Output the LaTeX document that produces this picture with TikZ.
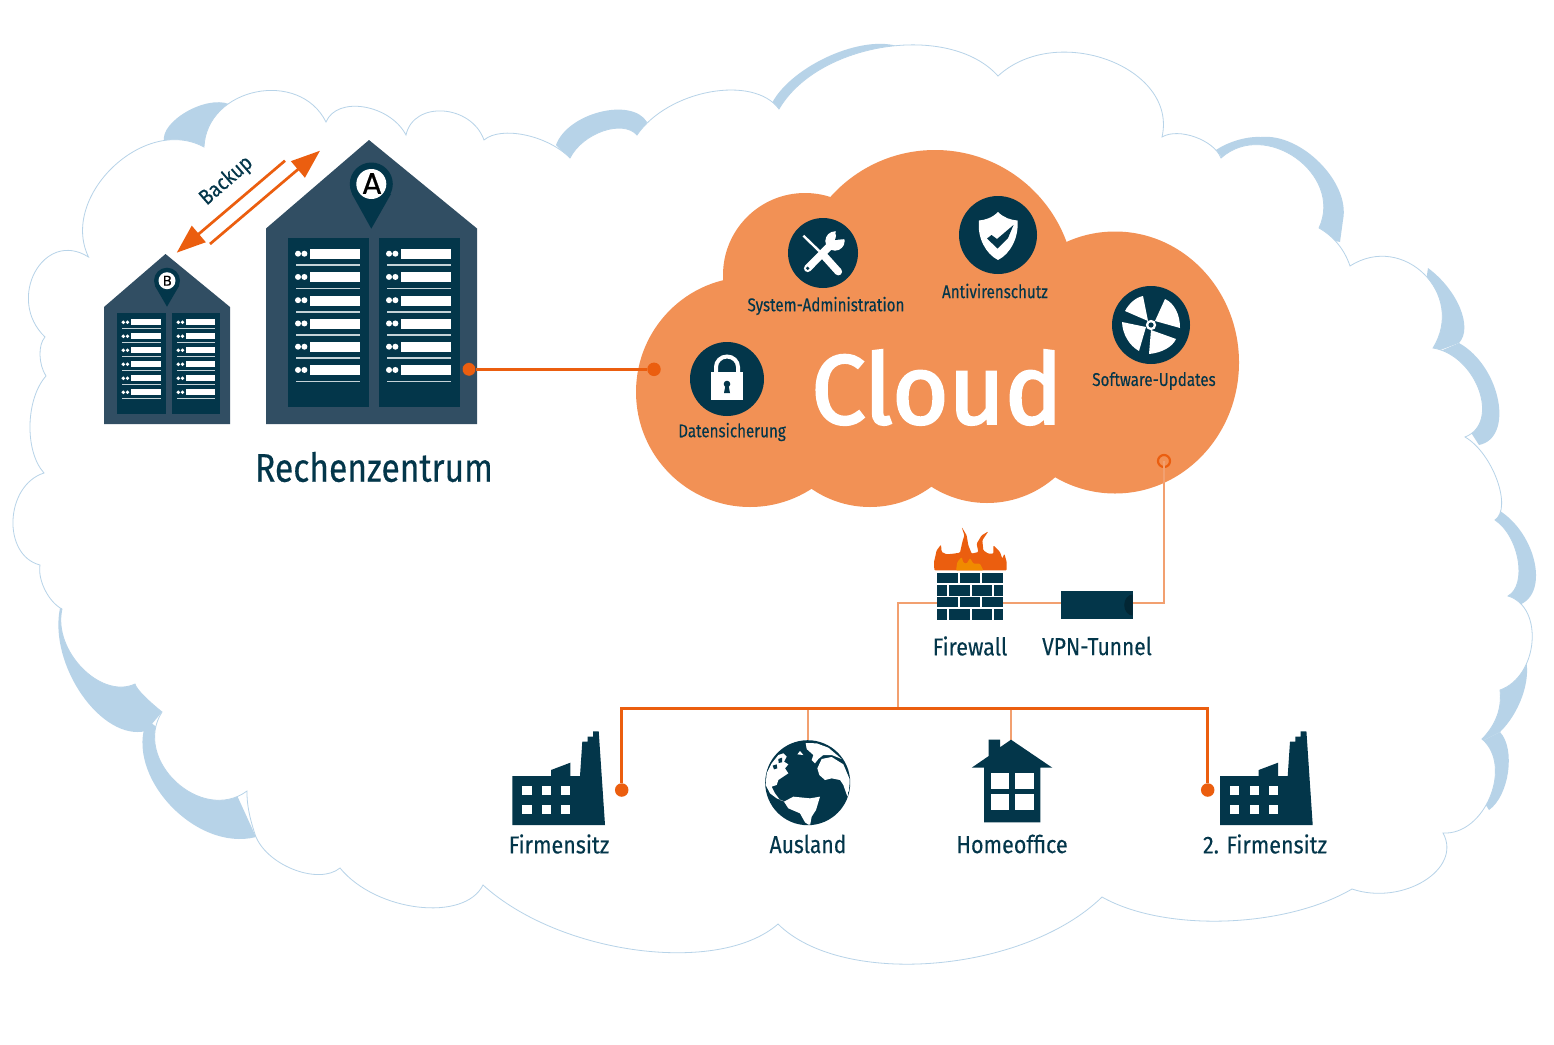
\documentclass[tikz,border=0pt]{standalone}
\usepackage{fontspec}
\usetikzlibrary{arrows.meta,calc}
\setmainfont{Fira Sans}[FakeStretch=0.82,FakeBold=0.25]
\newfontfamily\bigfont{Fira Sans}[FakeStretch=0.88,FakeBold=0.3]
\newfontfamily\hugefont{Fira Sans}[FakeStretch=0.84,FakeBold=0.35]
\newfontfamily\cloudfont{Fira Sans}[FakeStretch=0.985,FakeBold=2.6]
\newfontfamily\pinfont{Poppins}[FakeBold=0.5]
\definecolor{cblue}{HTML}{B7D3E8}
\definecolor{corange}{HTML}{F29155}
\definecolor{cline}{HTML}{EB5E0F}
\definecolor{cthin}{HTML}{F2A070}
\definecolor{cdark}{HTML}{03364A}
\definecolor{cbuild}{HTML}{314E63}
\definecolor{crule}{HTML}{C5D3D8}
\definecolor{camber}{HTML}{F08A00}
\def\lb#1#2#3#4#5#6#7{ .. controls ({(#1)+4/3*((#3)-((#1)+(#5))/2)+(#7)*((#1)-(#5))},{(#2)+4/3*((#4)-((#2)+(#6))/2)+(#7)*((#2)-(#6))}) and ({(#5)+4/3*((#3)-((#1)+(#5))/2)-(#7)*((#1)-(#5))},{(#6)+4/3*((#4)-((#2)+(#6))/2)-(#7)*((#2)-(#6))}) .. (#5,#6)}
\tikzset{
  lbl/.style={text=cdark,inner sep=0pt,anchor=center},
  big/.style={lbl,font=\bigfont\fontsize{24.5}{24.5}\selectfont},
  small/.style={lbl,font=\fontsize{18.5}{18.5}\selectfont},
  dotn/.style={circle,fill=cline,inner sep=0pt,minimum size=13.5pt},
  thick line/.style={draw=cline,line width=2.7pt},
  thin line/.style={draw=cthin,line width=1.2pt},
  ico/.style={circle,fill=cdark,inner sep=0pt},
  backuparrow/.style={draw=cline,line width=2.7pt,-{Triangle[length=29pt,width=21pt]}},
}
\newcommand\rackbig[2]{
  \fill[cdark] (#1,238) rectangle (#1+81,407);
  \foreach \r in {0,...,5}{
    \fill[white] (#1+10,253.7+23.25*\r) circle (3);
    \fill[white] (#1+16.4,253.7+23.25*\r) circle (3);
    \fill[white] (#1+22,249+23.25*\r) rectangle (#1+72,259+23.25*\r);
    \fill[crule] (#1+8,264.4+23.25*\r) rectangle (#1+72,266+23.25*\r);
  }
}
\newcommand\racksmall[2]{
  \fill[cdark] (#1,313) rectangle (#1+#2,414);
  \foreach \r in {0,...,5}{
    \fill[white] (#1+6.3,322.3+14*\r) circle (1.9);
    \fill[white] (#1+10.5,322.3+14*\r) circle (1.9);
    \fill[white] (#1+13.7,319.3+14*\r) rectangle (#1+#2-5.5,325.3+14*\r);
    \fill[crule] (#1+5,328.2+14*\r) rectangle (#1+#2-5.5,329.4+14*\r);
  }
}
\newcommand\factory[1]{
 \begin{scope}[shift={(#1,0)}]
  \fill[cdark] (512.3,825)--(512.3,776)--(551,776)--(551,770)--(570.3,762.7)--(570.3,776)--(580,776)--(582.3,741.7)--(587.7,741.7)--(587.7,736.7)--(593,736.7)--(593,731.3)--(598.7,731.3)--(605,825)--cycle;
  \foreach \wx in {522.3,542,561}{\foreach \wy in {786,805}{
    \fill[white] (\wx,\wy) rectangle (\wx+9.3,\wy+9.3);}}
 \end{scope}
}
\begin{document}
\begin{tikzpicture}[x=1pt,y=-1pt]
\useasboundingbox (0,0) rectangle (1554,1044);
\fill[white] (0,0) rectangle (1554,1044);
% blue crescents
\fill[cblue] (164,142) \lb{164}{142}{186}{112}{229}{104}{-0.15} -- (204,147) -- cycle;
\fill[cblue] (556,145) \lb{556}{145}{600}{112}{647}{122}{-0.15} -- (637,140) -- (610,200) -- (570,160) -- cycle;
\fill[cblue] (770,107) \lb{770}{107}{825}{58}{897}{46}{-0.22} -- (850,150) -- cycle;
\fill[cblue] (1216,150) \lb{1216}{150}{1238}{140}{1261}{137}{-0.3} \lb{1261}{137}{1320}{163}{1343}{220}{-0.2} -- (1340,242) -- (1280,230) -- cycle;
\fill[cblue] (1428,268) \lb{1428}{268}{1460}{308}{1459}{343}{-0.25} -- (1435,352) -- (1420,320) -- cycle;
\fill[cblue] (1459,343) \lb{1459}{343}{1498}{400}{1479}{445}{-0.15} -- (1450,400) -- (1438,352) -- cycle;
\fill[cblue] (1495,508) \lb{1495}{508}{1534}{560}{1519}{605}{-0.17} -- (1505,600) -- (1490,560) -- cycle;
\fill[cblue] (1526,660) \lb{1526}{660}{1522}{697}{1500}{732}{-0.28} -- (1480,742) -- (1490,700) -- cycle;
\fill[cblue] (1500,732) \lb{1500}{732}{1508}{772}{1489}{810}{-0.2} -- (1470,780) -- (1480,742) -- cycle;
\fill[cblue] (60,608) \lb{60}{608}{82}{695}{146}{731}{-0.19} -- (162,712) -- (160,650) -- cycle;
\fill[cblue] (147,720) \lb{147}{720}{170}{805}{256}{837}{-0.17} -- (230,780) -- cycle;
% main cloud
\draw[fill=white,draw=cblue,line width=0.8pt,line join=miter]
 (88.5,257)
 \lb{88.5}{257}{113}{167}{204}{147}{-0.13}
 \lb{204}{147}{256}{92}{326}{122}{-0.12}
 \lb{326}{122}{364}{107}{406}{135}{-0.17}
 \lb{406}{135}{443}{111}{484}{140}{-0.13}
 \lb{484}{140}{525}{135}{570}{158}{-0.23}
 \lb{570}{158}{603}{131}{637}{135}{-0.2}
 \lb{637}{135}{710}{92}{779}{109}{-0.2}
 \lb{779}{109}{885}{47}{998}{76}{-0.2}
 \lb{998}{76}{1108}{60}{1162}{137}{-0.13}
 \lb{1162}{137}{1195}{137}{1221}{158}{-0.2}
 \lb{1221}{158}{1296}{158}{1319}{228}{-0.1}
 \lb{1319}{228}{1338}{244}{1350}{266}{-0.33}
 \lb{1350}{266}{1424}{274}{1433}{348}{-0.12}
 \lb{1433}{348}{1479}{390}{1465}{437}{-0.12}
 \lb{1465}{437}{1497}{480}{1495}{520}{-0.17}
 \lb{1495}{520}{1518}{560}{1508}{596}{-0.18}
 \lb{1508}{596}{1532}{642}{1500}{690}{-0.13}
 \lb{1500}{690}{1497}{716}{1482}{739}{-0.33}
 \lb{1482}{739}{1490}{797}{1443}{833}{-0.13}
 \lb{1443}{833}{1424}{881}{1352}{889}{-0.17}
 \lb{1352}{889}{1225}{921}{1102}{897}{-0.26}
 \lb{1102}{897}{935}{963}{778}{924}{-0.22}
 \lb{778}{924}{637}{950}{483}{885}{-0.23}
 \lb{483}{885}{418}{907}{340}{868}{-0.19}
 \lb{340}{868}{295}{870}{256}{837}{-0.2}
 \lb{256}{837}{249}{812}{247}{791}{-0.33}
 \lb{247}{791}{176}{782}{162}{712}{-0.09}
 \lb{162}{712}{143}{695}{135}{684}{-0.33}
 \lb{135}{684}{82}{668}{62}{609}{-0.17}
 \lb{62}{609}{45}{590}{40}{565}{-0.25}
 \lb{40}{565}{13}{520}{44}{473}{-0.12}
 \lb{44}{473}{30}{425}{46}{376}{-0.23}
 \lb{46}{376}{40}{355}{45}{337}{-0.25}
 \lb{45}{337}{35}{272}{88.5}{257}{-0.06}
 -- cycle;
% orange cloud: union of round lobes
\begin{scope}[corange]
 \fill (750,392) ellipse (114 and 115);
 \fill (805,275) circle (82);
 \fill (935,290) circle (140);
 \fill (1115,362.5) ellipse (124 and 131);
 \fill (870,404) circle (103);
 \fill (987,400) circle (103);
 \fill (750,300) rectangle (1115,430);
\end{scope}
% building A
\fill[cbuild] (266,424)--(266,228.5)--(369,140)--(477,228.5)--(477,424)--cycle;
\rackbig{288}{238}
\rackbig{379}{238}
\fill[cdark] (352,194)--(371.3,228.7)--(391,194)--cycle;
\node[ico,minimum size=43pt] (pinA) at (371.3,184) {};
\fill[white] (pinA.center) circle (15);
\node[inner sep=0,text=black,font=\pinfont\fontsize{30}{30}\selectfont] at (372,183.5) {A};
% building B
\fill[cbuild] (104,424)--(104,307)--(165.5,254)--(230,307)--(230,424)--cycle;
\racksmall{117}{49}
\racksmall{172}{48}
\fill[cdark] (155,286)--(167,306.7)--(179,286)--cycle;
\node[ico,minimum size=26pt] (pinB) at (167,280.7) {};
\fill[white] (pinB.center) circle (8.5);
\node[inner sep=0,text=black,font=\pinfont\fontsize{14}{14}\selectfont] at (167.3,280.7) {B};
% backup arrows
\coordinate (b1) at (285,160.7);
\coordinate (b1e) at (176.7,252.7);
\coordinate (b2) at (210,244);
\coordinate (b2e) at (320,150.7);
\draw[backuparrow] (b1) -- (b1e);
\draw[backuparrow] (b2) -- (b2e);
\node[lbl,rotate=41,font=\bigfont\fontsize{21.5}{21.5}\selectfont] at (226.5,181) {Backup};
\node[lbl,font=\hugefont\fontsize{40}{40}\selectfont] at (374,467) {Rechenzentrum};
% link building to cloud
\node[dotn,draw=cbuild,line width=0.4pt] (dA) at (469,369.3) {};
\node[dotn] (dC) at (654,369.3) {};
\draw[thick line] (dA) -- (dC);
% tools icon
\node[ico,minimum size=70pt] (tool) at (823,253) {};
\begin{scope}[shift={(785,215)},scale=0.33333]
 \draw[white,line width=2.4pt] (55,62) -- (115,120);
 \draw[white,line width=7.5pt,line cap=round] (115,120) -- (160,170);
 \draw[white,line width=7.5pt,line cap=round] (68,160) -- (135,92);
 \fill[white] (150,78) circle (29);
 \fill[cdark] (168,55) circle (17);
 \fill[cdark] (150,75) -- (160,40) -- (195,50) -- (182,72) -- cycle;
 \fill[cdark] (68,160) circle (5.5);
\end{scope}
\node[small] at (826,306) {System-Administration};
% shield icon
\node[ico,minimum size=78pt] (shield) at (998,235) {};
\fill[white] (998,212) .. controls (1004,218) and (1011,220) .. (1017.5,220.5) .. controls (1019,238) and (1010,254) .. (998,260) .. controls (986,254) and (977,238) .. (979,220.5) .. controls (985,220) and (992,218) .. (998,212) -- cycle;
\fill[cdark] (987,238.5)--(991.5,235)--(997,239)--(1013.5,225)--(1008,238)--(997.5,248.5)--cycle;
\node[small] at (995,291) {Antivirenschutz};
% fan icon
\node[ico,minimum size=78pt] (fan) at (1151,325) {};
\begin{scope}[shift={(1151,325)}]
 \fill[white] (-26,-14) \lb{-26}{-14}{-18}{-24}{-8}{-29}{-0.3} -- (-3,-4) -- cycle;
 \fill[white] (14,-26) \lb{14}{-26}{25}{-15}{29}{3}{-0.3} -- (4,-4) -- cycle;
 \fill[white] (25,14) \lb{25}{14}{15}{24}{-2}{29}{-0.3} -- (0,5) -- cycle;
 \fill[white] (-12,26) \lb{-12}{26}{-24}{14}{-29}{-3}{-0.3} -- (-5,2) -- cycle;
 \fill[white] (0,0) circle (5.2);
 \fill[cdark] (0,0) circle (2.6);
\end{scope}
\node[small] at (1154,381) {Software-Updates};
% lock icon
\node[ico,minimum size=74pt] (lock) at (727,379) {};
\draw[white,line width=4pt] (716,373) -- (716,367) arc[start angle=180,end angle=0,x radius=11,y radius=-10.5] -- (738,373);
\fill[white] (711,372) rectangle (743,400);
\fill[cdark] (727,384) circle (3.3);
\fill[cdark] (725.5,385)--(728.5,385)--(730,393)--(724,393)--cycle;
\node[small] at (732,432) {Datensicherung};
\node[lbl,text=white,font=\cloudfont\fontsize{98}{98}\selectfont] at (937,387.5) {Cloud};
% connectors
\node[circle,draw=cline,line width=2.2pt,inner sep=0pt,minimum size=12pt] (ring) at (1164,461) {};
\node[fill=cdark,inner sep=0pt,minimum width=72pt,minimum height=28pt] (vpn) at (1096.7,605) {};
\coordinate (fwR) at (1003,603);
\coordinate (fwL) at (937,603);
\coordinate (c1) at (1164,603);
\coordinate (c2) at (898,603);
\coordinate (c3) at (898,708);
\coordinate (tl) at (621.7,708.3);
\coordinate (tr) at (1207.7,708.3);
\coordinate (ta) at (808,708.3);
\coordinate (ga) at (808,740);
\coordinate (th) at (1011,708.3);
\coordinate (ha) at (1011,740);
\draw[thin line] (ring.center) -- (c1) -- (vpn.east |- c1);
\draw[thin line] (vpn.west |- fwR) -- (fwR);
\draw[thin line] (fwL) -- (c2) -- (c3);
\draw[thin line] (ta) -- (ga);
\draw[thin line] (th) -- (ha);
\node[dotn] (dL) at (621.7,790) {};
\node[dotn] (dR) at (1207.7,790) {};
\draw[thick line,line join=miter] (dL) -- (tl) -- (tr) -- (dR);
% vpn notch
\fill[black!30!cdark] (1132.7,594.5) arc[start angle=90,end angle=270,x radius=8.5,y radius=-10.5] -- cycle;
% firewall
\begin{scope}[shift={(925,522)},scale=0.33333]
\fill[cline,rounded corners=1pt] (28,145)--(27,120)--(35,85)--(48,68)--(50,90)--(65,97)--(85,95)--(105,92)--(112,60)--(118,40)--(110,15)--(125,40)--(130,70)--(140,95)--(160,90)--(155,65)--(170,40)--(190,28)--(172,55)--(175,85)--(190,95)--(205,95)--(205,70)--(225,90)--(232,110)--(238,95)--(245,120)--(245,145)--cycle;
\fill[camber,rounded corners=1pt] (93,145)--(97,120)--(110,105)--(115,122)--(125,125)--(135,108)--(145,125)--(165,125)--(175,145)--cycle;
\end{scope}
\foreach \ry in {573,597}{
  \fill[cdark] (937.3,\ry) rectangle (958.3,\ry+10);
  \fill[cdark] (960,\ry) rectangle (980,\ry+10);
  \fill[cdark] (982,\ry) rectangle (1002.7,\ry+10);
}
\foreach \ry in {585,609}{
  \fill[cdark] (937.3,\ry) rectangle (947.3,\ry+10.5);
  \fill[cdark] (949.3,\ry) rectangle (970,\ry+10.5);
  \fill[cdark] (971.7,\ry) rectangle (992.3,\ry+10.5);
  \fill[cdark] (994,\ry) rectangle (1002.7,\ry+10.5);
}
\node[big] at (970,646) {Firewall};
\node[big,xscale=0.97] at (1097,646) {VPN-Tunnel};
% factories
\factory{0}
\factory{707.7}
\node[big] at (559,844) {Firmensitz};
\node[big] at (1265,844) {2. Firmensitz};
% globe
\node[ico,minimum size=85pt] (globe) at (807.7,782.7) {};
\begin{scope}
\clip (807.7,782.7) circle (42);
\begin{scope}[shift={(760,735)},scale=0.33333]
 \fill[white] (17,150)--(20,115)--(35,85)--(55,60)--(70,55)--(80,65)--(72,80)--(85,88)--(75,100)--(85,115)--(70,125)--(55,135)--(50,150)--(35,155)--(45,175)--(60,195)--(75,200)--(50,190)--(30,175)--cycle;
 \fill[cdark] (38,92)--(50,88)--(52,100)--(42,103)--cycle;
 \fill[cdark] (55,72)--(66,68)--(66,82)--(56,84)--cycle;
 \fill[white] (112,58)--(120,48)--(130,60)--cycle;
 \fill[white] (137,24)--(170,25)--(205,38)--(245,72)--(215,60)--(190,60)--(175,72)--(165,85)--(155,75)--(160,60)--(140,42)--cycle;
 \fill[white] (172,100)--(185,72)--(215,66)--(250,88)--(270,135)--(264,190)--(250,150)--(240,135)--(215,130)--(195,135)--(178,120)--cycle;
 \fill[white] (72,200)--(100,185)--(150,190)--(180,185)--(168,225)--(155,245)--(150,272)--(135,262)--(120,235)--(85,220)--cycle;
\end{scope}
\end{scope}
\node[big,xscale=0.98] at (808,844) {Ausland};
% house
\fill[cdark] (971.7,767.7)--(988.7,756)--(988.7,739.7)--(1000,739.7)--(1000,747.3)--(1011,739.7)--(1052.3,767.7)--(1040.3,767.7)--(1040.3,822.3)--(984,822.3)--(984,767.7)--cycle;
\foreach \wx in {991,1015.3}{\foreach \wy in {773.3,794.3}{
  \fill[white] (\wx,\wy) rectangle (\wx+18.3,\wy+15.5);}}
\node[big] at (1012,844) {Homeoffice};
\end{tikzpicture}
\end{document}
